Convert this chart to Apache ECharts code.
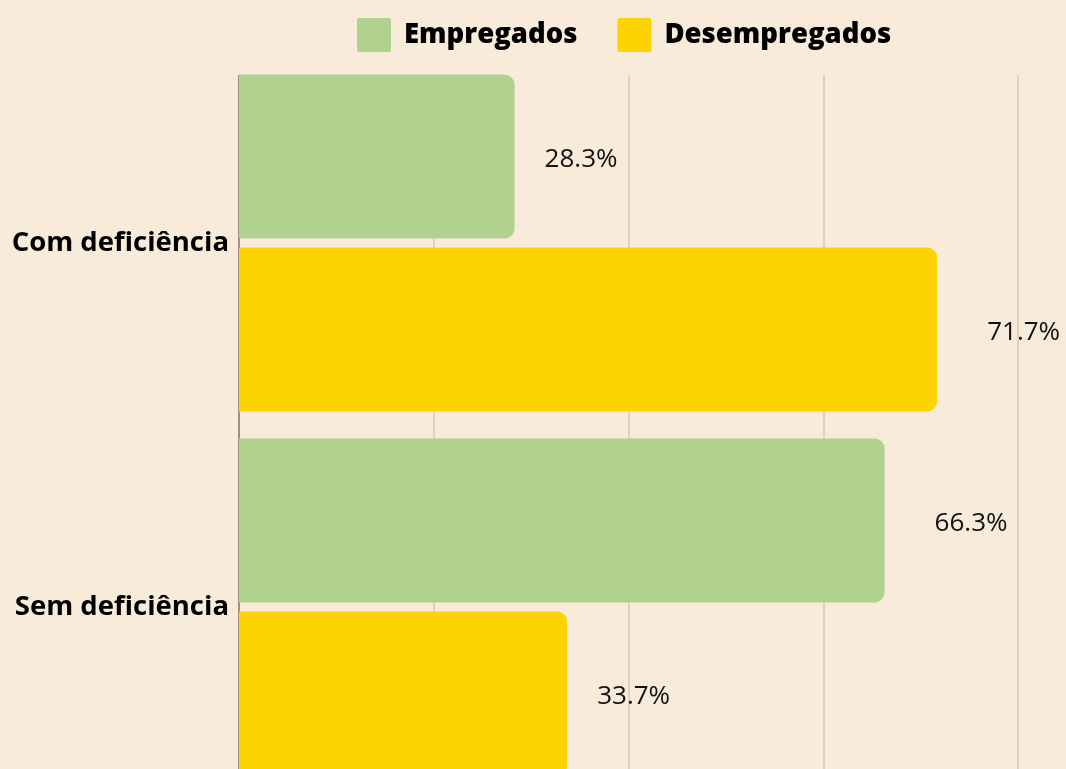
<!DOCTYPE html>
<html>
<head>
<meta charset="utf-8">
<script src="https://cdn.jsdelivr.net/npm/echarts@6/dist/echarts.min.js"></script>
<style>
  html, body { margin: 0; padding: 0; background: #f9ebda; }
  #chart { width: 1066px; height: 769px; }
</style>
</head>
<body>
<div id="chart"></div>
<script>
// categorias e valores (%)
const categories = ["Com deficiência", "Sem deficiência"];
const empregados = [28.3, 66.3];
const desempregados = [71.7, 33.7];

const bg = "#f9ebda";
const green = "#b1d18f";
const yellow = "#fdd402";
const font = "Open Sans";

const chart = echarts.init(document.getElementById("chart"));

// rótulos mais afastados nas barras longas, como no original
const withLabels = (vals) =>
  vals.map((v) => ({ value: v, label: { distance: v > 50 ? 50 : 30 } }));

const barStyle = {
  type: "bar",
  barWidth: 164,
  barGap: "5.5%",
  label: {
    show: true,
    position: "right",
    formatter: "{c}%",
    color: "#111",
    fontSize: 26,
    fontFamily: font,
    offset: [0, 3],
  },
};

chart.setOption({
  backgroundColor: bg,
  textStyle: { fontFamily: font },
  legend: {
    top: 18,
    left: 357,
    padding: 0,
    itemWidth: 34,
    itemHeight: 34,
    itemGap: 40,
    icon: "path://M2,0 L32,0 Q34,0 34,2 L34,32 Q34,34 32,34 L2,34 Q0,34 0,32 L0,2 Q0,0 2,0 Z",
    textStyle: { fontSize: 27.5, fontWeight: 800, color: "#000", padding: [0, 0, 0, 8] },
    data: ["Empregados", "Desempregados"],
  },
  grid: { left: 239, right: 48, top: 61, height: 728, outerBoundsMode: "none" },
  xAxis: {
    type: "value",
    min: 0,
    max: 80,
    interval: 20,
    axisLabel: { show: false },
    axisLine: { show: false },
    axisTick: { show: false },
    splitLine: { lineStyle: { color: "#d6cabb", width: 1.5 } },
  },
  yAxis: {
    type: "category",
    inverse: true,
    data: categories,
    axisTick: { show: false },
    axisLine: { lineStyle: { color: "#8c7b6b", width: 1.5 } },
    axisLabel: { fontSize: 27.5, fontWeight: "bold", color: "#000", margin: 10 },
  },
  graphic: [
    {
      type: "rect",
      z: 1,
      shape: { x: 0, y: 0, width: 1066, height: 75 },
      style: { fill: bg },
    },
  ],
  series: [
    {
      ...barStyle,
      name: "Empregados",
      data: withLabels(empregados),
      itemStyle: { color: green, borderRadius: [0, 10, 10, 0] },
    },
    {
      ...barStyle,
      name: "Desempregados",
      data: withLabels(desempregados),
      itemStyle: { color: yellow, borderRadius: [0, 10, 10, 0] },
    },
  ],
});
</script>
</body>
</html>
